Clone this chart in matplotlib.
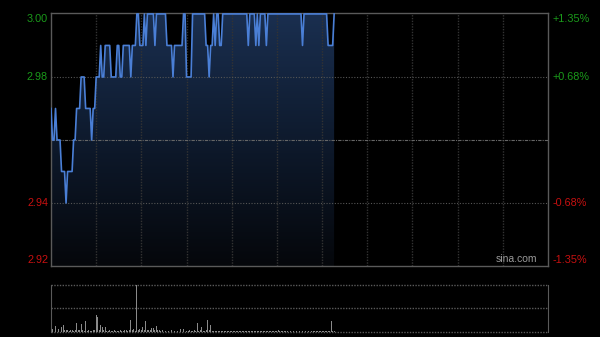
import matplotlib
matplotlib.use("Agg")
import matplotlib.pyplot as plt
import numpy as np
from matplotlib.colors import LinearSegmentedColormap
import matplotlib.transforms as mtransforms

plt.rcParams['font.family'] = ['Liberation Sans', 'DejaVu Sans']

# minute-by-minute price (HK session, 330 minutes total, data up to minute 188)
price = [
    2.97, 2.96, 2.96, 2.97, 2.96, 2.96, 2.96, 2.95, 2.95, 2.95,
    2.94, 2.95, 2.95, 2.95, 2.95, 2.96, 2.96, 2.97, 2.97, 2.97,
    2.98, 2.98, 2.98, 2.97, 2.97, 2.97, 2.97, 2.96, 2.97, 2.97,
    2.98, 2.98, 2.98, 2.99, 2.98, 2.98, 2.99, 2.99, 2.99, 2.99,
    2.98, 2.98, 2.98, 2.98, 2.99, 2.99, 2.98, 2.98, 2.99, 2.99,
    2.99, 2.99, 2.99, 2.98, 2.99, 2.99, 2.99, 3.00, 3.00, 2.99,
    2.99, 2.99, 3.00, 2.99, 3.00, 3.00, 3.00, 3.00, 3.00, 2.99,
    3.00, 3.00, 3.00, 3.00, 3.00, 3.00, 3.00, 2.99, 2.99, 2.99,
    2.99, 2.98, 2.99, 2.99, 2.99, 2.99, 2.99, 2.99, 3.00, 3.00,
    2.98, 2.98, 2.98, 2.98, 3.00, 3.00, 3.00, 3.00, 3.00, 3.00,
    3.00, 3.00, 3.00, 2.99, 2.99, 2.98, 2.99, 2.99, 3.00, 2.99,
    3.00, 3.00, 2.99, 2.99, 3.00, 3.00, 3.00, 3.00, 3.00, 3.00,
    3.00, 3.00, 3.00, 3.00, 3.00, 3.00, 3.00, 3.00, 3.00, 3.00,
    3.00, 2.99, 3.00, 3.00, 3.00, 3.00, 2.99, 3.00, 2.99, 3.00,
    3.00, 3.00, 3.00, 2.99, 3.00, 3.00, 3.00, 3.00, 3.00, 3.00,
    3.00, 3.00, 3.00, 3.00, 3.00, 3.00, 3.00, 3.00, 3.00, 3.00,
    3.00, 3.00, 3.00, 3.00, 3.00, 3.00, 3.00, 2.99, 3.00, 3.00,
    3.00, 3.00, 3.00, 3.00, 3.00, 3.00, 3.00, 3.00, 3.00, 3.00,
    3.00, 3.00, 3.00, 3.00, 2.99, 2.99, 2.99, 2.99, 3.00,
]

volume = [
    6, 3, 2, 6, 2, 2.3, 1.5, 4.3, 6.7, 2,
    1.5, 2, 1, 2, 1.5, 1, 2, 9, 2, 1.5,
    7.7, 1.5, 1, 10.7, 1, 1.5, 1, 1, 1.5, 2,
    16.3, 14.3, 2, 6.7, 5, 1.5, 5, 1, 1, 1.5,
    1, 1, 1.5, 1, 1, 1, 1.5, 1, 1, 1.5,
    2, 1, 1.5, 11.7, 1.5, 2.3, 1, 60, 1.5, 3,
    1.5, 5, 1.5, 10.7, 2, 1.5, 2, 3.3, 4, 1.5,
    6, 2, 1.5, 1, 1.5, 1, 1, 1.5, 1, 1,
    1.5, 1, 1, 1.5, 1, 1, 2.7, 1, 3, 1.5,
    1, 1, 1.5, 1, 1, 1.5, 1, 9, 1, 1.5,
    4.3, 1, 1, 1.5, 11.7, 1.5, 6.7, 1, 1, 0.8,
    0.6, 0.8, 0.6, 0.5, 0.8, 0.6, 0.5, 0.8, 0.6, 0.5,
    0.6, 0.8, 0.5, 0.6, 0.5, 0.8, 0.6, 0.5, 0.6, 0.5,
    0.8, 0.5, 0.6, 0.5, 0.6, 0.8, 0.5, 0.6, 0.5, 0.6,
    0.5, 0.8, 0.6, 0.5, 0.6, 0.5, 0.6, 0.8, 0.5, 0.6,
    0.5, 1.7, 0.6, 0.5, 0.8, 0.5, 0.6, 0.5, 0.6, 0.5,
    0.8, 0.5, 0.6, 0.5, 0.6, 0.5, 0.8, 0.6, 0.5, 0.6,
    0.5, 0.6, 0.5, 0.8, 0.5, 0.6, 0.5, 0.6, 0.5, 0.6,
    0.5, 0.6, 0.8, 0.5, 0.6, 0.5, 10.7, 1, 1,
]

prev_close = 2.96
left_ticks = [3.00, 2.98, 2.94, 2.92]
left_labels = ["3.00", "2.98", "2.94", "2.92"]
right_labels = ["+1.35%", "+0.68%", "-0.68%", "-1.35%"]
tick_colors = ["#1a9a1a", "#1a9a1a", "#c81010", "#c81010"]

x = np.arange(len(price))
total_minutes = 330

fig = plt.figure(figsize=(6, 3.37), dpi=100, facecolor="black")
ax = fig.add_axes([51/600, 1-266/337, 497/600, 253/337], facecolor="black")
axv = fig.add_axes([51/600, 1-331.5/337, 497/600, 46.5/337], facecolor="black")

ax.set_xlim(0, total_minutes)
ax.set_ylim(2.92, 3.0003)

# gradient fill under the price line
cmap = LinearSegmentedColormap.from_list("fill", ["#05070b", "#0e1a2d", "#1a2f50"])
grad = np.linspace(0, 1, 256).reshape(-1, 1)
img = ax.imshow(grad, cmap=cmap, origin="lower", aspect="auto",
                extent=[0, total_minutes, 2.92, 3.0003], zorder=1)
poly = ax.fill_between(x, price, 2.92, color="none", lw=0)
img.set_clip_path(poly.get_paths()[0], transform=ax.transData)

# grid
for gx in range(30, total_minutes, 30):
    ax.axvline(gx, color="#333333", lw=1, ls=(0, (1, 1)), zorder=2)
for gy in [2.98, 2.94]:
    ax.axhline(gy, color="#555555", lw=0.8, ls=(0, (1, 1.5)), zorder=2)
ax.axhline(prev_close, color="#666666", lw=0.8, ls=(0, (3, 1, 1, 1)), zorder=2)

ax.plot(x, price, color="#4a7fd6", lw=1.2, zorder=3)

for s in ax.spines.values():
    s.set_color("#5a5a5a")
    s.set_linewidth(1)
ax.set_xticks([])
ax.set_yticks([])

trans = mtransforms.blended_transform_factory(ax.transAxes, ax.transData)
for v, lab, rlab, c in zip(left_ticks, left_labels, right_labels, tick_colors):
    dy = 0
    if v == 3.00:
        dy = -5
    elif v == 2.92:
        dy = 6
    off = trans + mtransforms.ScaledTranslation(0, dy / 100, fig.dpi_scale_trans)
    ax.text(-0.006, v, lab, transform=off, ha="right", va="center", color=c, fontsize=7.8)
    ax.text(1.009, v, rlab, transform=off, ha="left", va="center", color=c, fontsize=7.8)

ax.text(0.978, 0.008, "sina.com", transform=ax.transAxes, ha="right", va="bottom",
        color="#9a9a9a", fontsize=7.5)

# volume panel
axv.set_xlim(0, total_minutes)
axv.set_ylim(0, 47)
axv.bar(x, volume, width=0.6, color="#8a8a8a", zorder=3)
for gy in [47, 23.5, 0]:
    axv.axhline(gy, color="#5a5a5a", lw=1, ls=(0, (1, 1)), zorder=2, clip_on=False)
for side in ["top", "bottom"]:
    axv.spines[side].set_visible(False)
for side in ["left", "right"]:
    axv.spines[side].set_color("#5a5a5a")
axv.set_xticks([])
axv.set_yticks([])

fig.savefig("out.png", dpi=100, facecolor="black")
